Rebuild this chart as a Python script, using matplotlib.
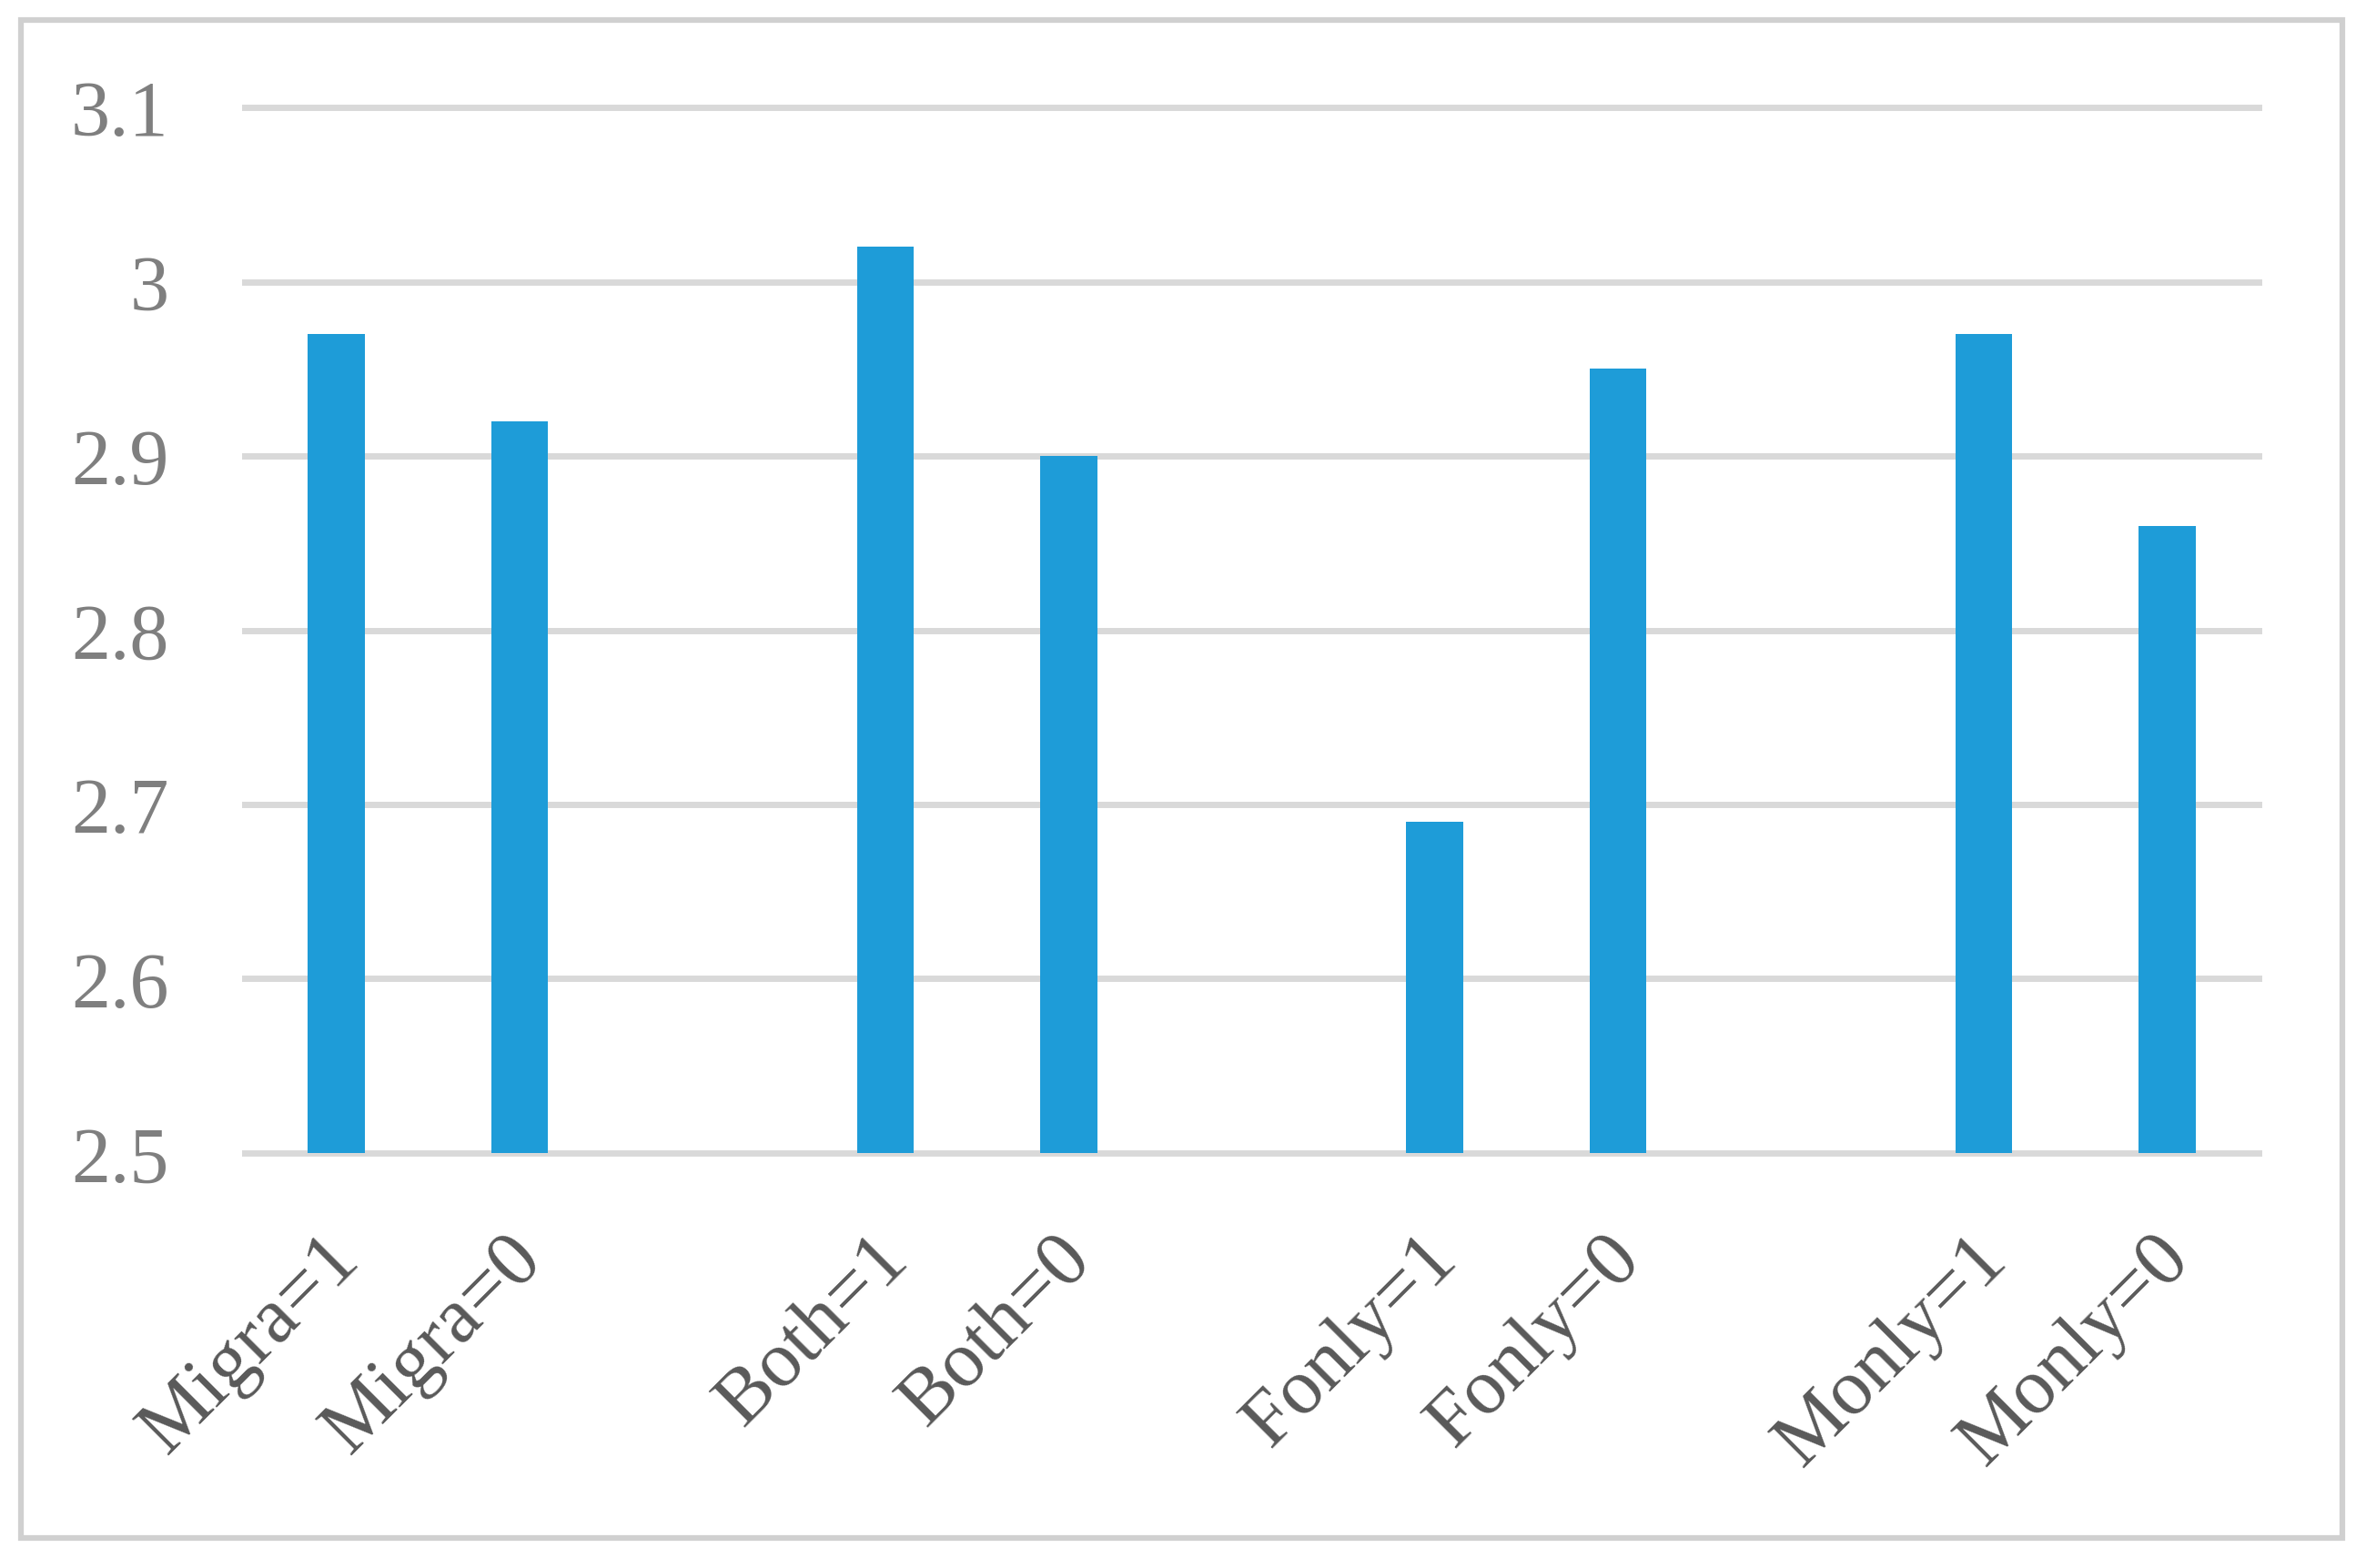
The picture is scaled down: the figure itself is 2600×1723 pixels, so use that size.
import numpy as np
import matplotlib.pyplot as plt
import matplotlib.transforms as mtransforms
from matplotlib.patches import Rectangle

groups = ["Migra", "Both", "Fonly", "Monly"]
labels = ["Migra=1", "Migra=0", "Both=1", "Both=0",
          "Fonly=1", "Fonly=0", "Monly=1", "Monly=0"]
values = [2.97, 2.92, 3.02, 2.90, 2.69, 2.95, 2.97, 2.86]
yticks = [2.5, 2.6, 2.7, 2.8, 2.9, 3.0, 3.1]
ytick_labels = ["2.5", "2.6", "2.7", "2.8", "2.9", "3", "3.1"]

W, H = 2600, 1724
fig = plt.figure(figsize=(W / 100, H / 100), dpi=100)

# outer chart border
fig.patches.append(Rectangle((23 / W, 1 - 1691 / H), (2574 - 23) / W, (1691 - 23) / H,
                             transform=fig.transFigure, fill=False,
                             edgecolor="#D0D0D0", linewidth=4.5))

ax = fig.add_axes([269 / W, 1 - 1268 / H, (2482 - 269) / W, (1268 - 119) / H])

# each group of two bars, then an empty slot
x = [g * 3 + i for g in range(len(groups)) for i in range(2)]
ax.bar(x, np.array(values) - 2.5, bottom=2.5, width=0.31, color="#1E9CD8", zorder=3)

ax.set_xlim(-0.5, 10.5)
ax.set_ylim(2.5, 3.1)
ax.set_yticks(yticks)
ax.set_yticklabels(ytick_labels)
for y in yticks:
    ax.axhline(y, color="#D9D9D9", linewidth=5, zorder=1, clip_on=False)

ax.set_xticks(x)
ax.set_xticklabels(labels, rotation=45, ha="right", rotation_mode="anchor")

for s in ax.spines.values():
    s.set_visible(False)
ax.tick_params(axis="both", length=0)
ax.tick_params(axis="y", pad=60, labelsize=62, labelcolor="#7F7F7F")
ax.tick_params(axis="x", pad=54, labelsize=62, labelcolor="#595959")
for t in ax.get_xticklabels() + ax.get_yticklabels():
    t.set_family("Liberation Serif")
# small horizontal nudge of the rotated labels
off = mtransforms.ScaledTranslation(-0.16, 0, fig.dpi_scale_trans)
for t in ax.get_xticklabels():
    t.set_transform(t.get_transform() + off)

fig.savefig("out.png", dpi=100, facecolor="white")
